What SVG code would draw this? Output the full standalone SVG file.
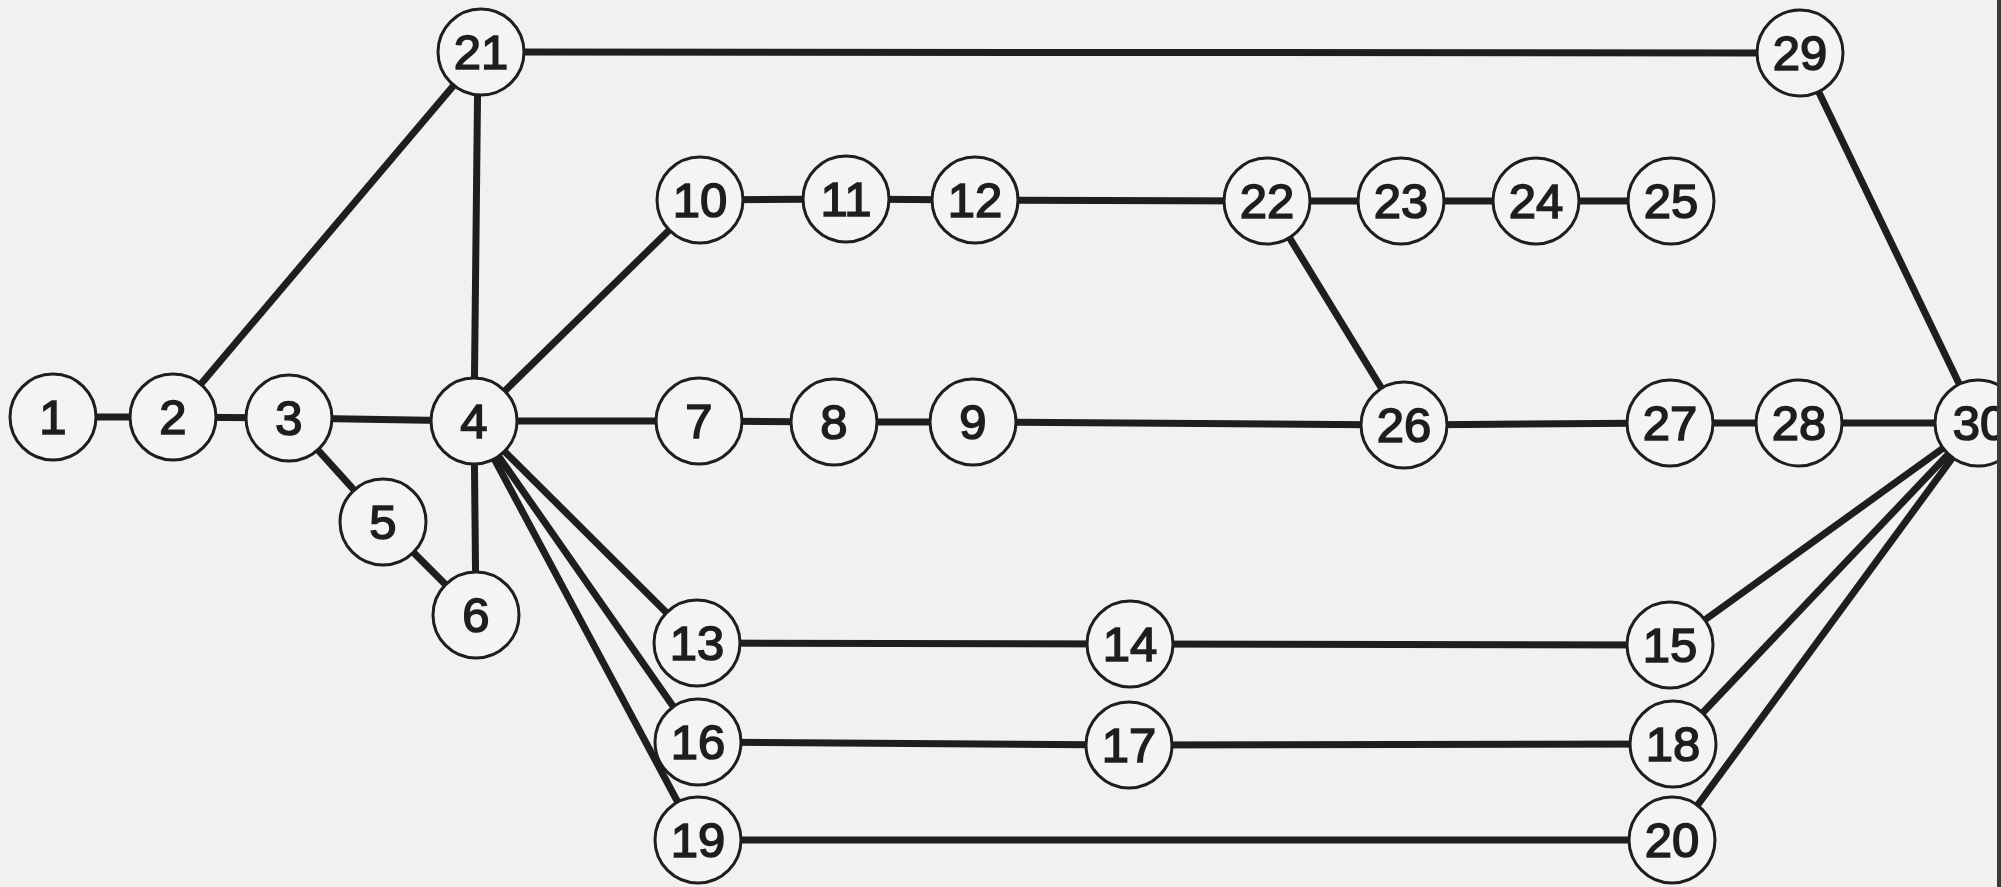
<svg xmlns="http://www.w3.org/2000/svg" width="2001" height="887" viewBox="0 0 2001 887">
<style>
.bg{fill:#f1f1ef}
.e line{stroke:#1e1e1e;stroke-width:7;stroke-linecap:butt}
.n circle{fill:#f4f4f2;stroke:#1e1e1e;stroke-width:3}
.n text{font-family:"Liberation Sans",Arial,sans-serif;font-size:49px;fill:#1e1e1e;text-anchor:middle;stroke:#1e1e1e;stroke-width:1.6}
</style>
<rect class="bg" x="0" y="0" width="2001" height="887"/>
<g id="connectors" class="e">
<line x1="53" y1="417" x2="173" y2="417"/>
<line x1="173" y1="417" x2="289" y2="418"/>
<line x1="289" y1="418" x2="474" y2="421"/>
<line x1="173" y1="417" x2="482" y2="52"/>
<line x1="289" y1="418" x2="383" y2="522"/>
<line x1="383" y1="522" x2="476" y2="615"/>
<line x1="474" y1="421" x2="476" y2="615"/>
<line x1="474" y1="421" x2="478" y2="52"/>
<line x1="474" y1="421" x2="700" y2="200"/>
<line x1="474" y1="421" x2="699" y2="421"/>
<line x1="474" y1="421" x2="697" y2="643"/>
<line x1="474" y1="421" x2="698" y2="742"/>
<line x1="474" y1="421" x2="698" y2="840"/>
<line x1="699" y1="421" x2="834" y2="422"/>
<line x1="834" y1="422" x2="973" y2="422"/>
<line x1="973" y1="422" x2="1404" y2="425"/>
<line x1="700" y1="200" x2="846" y2="199"/>
<line x1="846" y1="199" x2="975" y2="200"/>
<line x1="975" y1="200" x2="1267" y2="201"/>
<line x1="1267" y1="201" x2="1401" y2="201"/>
<line x1="1401" y1="201" x2="1536" y2="201"/>
<line x1="1536" y1="201" x2="1671" y2="201"/>
<line x1="1267" y1="201" x2="1404" y2="425"/>
<line x1="1404" y1="425" x2="1670" y2="423"/>
<line x1="1670" y1="423" x2="1799" y2="423"/>
<line x1="1799" y1="423" x2="1978" y2="423"/>
<line x1="482" y1="52" x2="1800" y2="53"/>
<line x1="1800" y1="53" x2="1978" y2="423"/>
<line x1="697" y1="643" x2="1130" y2="644"/>
<line x1="1130" y1="644" x2="1670" y2="645"/>
<line x1="698" y1="742" x2="1129" y2="745"/>
<line x1="1129" y1="745" x2="1673" y2="744"/>
<line x1="698" y1="840" x2="1672" y2="840"/>
<line x1="1670" y1="645" x2="1978" y2="423"/>
<line x1="1673" y1="744" x2="1978" y2="423"/>
<line x1="1672" y1="840" x2="1978" y2="423"/>
</g>
<g id="n1" class="n"><circle cx="53" cy="417" r="43"/><text x="53" y="434">1</text></g>
<g id="n2" class="n"><circle cx="173" cy="417" r="43"/><text x="173" y="434">2</text></g>
<g id="n3" class="n"><circle cx="289" cy="418" r="43"/><text x="289" y="435">3</text></g>
<g id="n4" class="n"><circle cx="474" cy="421" r="43"/><text x="474" y="438">4</text></g>
<g id="n5" class="n"><circle cx="383" cy="522" r="43"/><text x="383" y="539">5</text></g>
<g id="n6" class="n"><circle cx="476" cy="615" r="43"/><text x="476" y="632">6</text></g>
<g id="n7" class="n"><circle cx="699" cy="421" r="43"/><text x="699" y="438">7</text></g>
<g id="n8" class="n"><circle cx="834" cy="422" r="43"/><text x="834" y="439">8</text></g>
<g id="n9" class="n"><circle cx="973" cy="422" r="43"/><text x="973" y="439">9</text></g>
<g id="n10" class="n"><circle cx="700" cy="200" r="43"/><text x="700" y="217">10</text></g>
<g id="n11" class="n"><circle cx="846" cy="199" r="43"/><text x="846" y="216">11</text></g>
<g id="n12" class="n"><circle cx="975" cy="200" r="43"/><text x="975" y="217">12</text></g>
<g id="n13" class="n"><circle cx="697" cy="643" r="43"/><text x="697" y="660">13</text></g>
<g id="n14" class="n"><circle cx="1130" cy="644" r="43"/><text x="1130" y="661">14</text></g>
<g id="n15" class="n"><circle cx="1670" cy="645" r="43"/><text x="1670" y="662">15</text></g>
<g id="n16" class="n"><circle cx="698" cy="742" r="43"/><text x="698" y="759">16</text></g>
<g id="n17" class="n"><circle cx="1129" cy="745" r="43"/><text x="1129" y="762">17</text></g>
<g id="n18" class="n"><circle cx="1673" cy="744" r="43"/><text x="1673" y="761">18</text></g>
<g id="n19" class="n"><circle cx="698" cy="840" r="43"/><text x="698" y="857">19</text></g>
<g id="n20" class="n"><circle cx="1672" cy="840" r="43"/><text x="1672" y="857">20</text></g>
<g id="n21" class="n"><circle cx="481" cy="52" r="43"/><text x="481" y="69">21</text></g>
<g id="n22" class="n"><circle cx="1267" cy="201" r="43"/><text x="1267" y="218">22</text></g>
<g id="n23" class="n"><circle cx="1401" cy="201" r="43"/><text x="1401" y="218">23</text></g>
<g id="n24" class="n"><circle cx="1536" cy="201" r="43"/><text x="1536" y="218">24</text></g>
<g id="n25" class="n"><circle cx="1671" cy="201" r="43"/><text x="1671" y="218">25</text></g>
<g id="n26" class="n"><circle cx="1404" cy="425" r="43"/><text x="1404" y="442">26</text></g>
<g id="n27" class="n"><circle cx="1670" cy="423" r="43"/><text x="1670" y="440">27</text></g>
<g id="n28" class="n"><circle cx="1799" cy="423" r="43"/><text x="1799" y="440">28</text></g>
<g id="n29" class="n"><circle cx="1800" cy="53" r="43"/><text x="1800" y="70">29</text></g>
<g id="n30" class="n"><circle cx="1978" cy="423" r="43"/><text x="1980" y="440">30</text></g>
<rect x="1997" y="0" width="4" height="887" fill="#3a3a3a"/>
</svg>
